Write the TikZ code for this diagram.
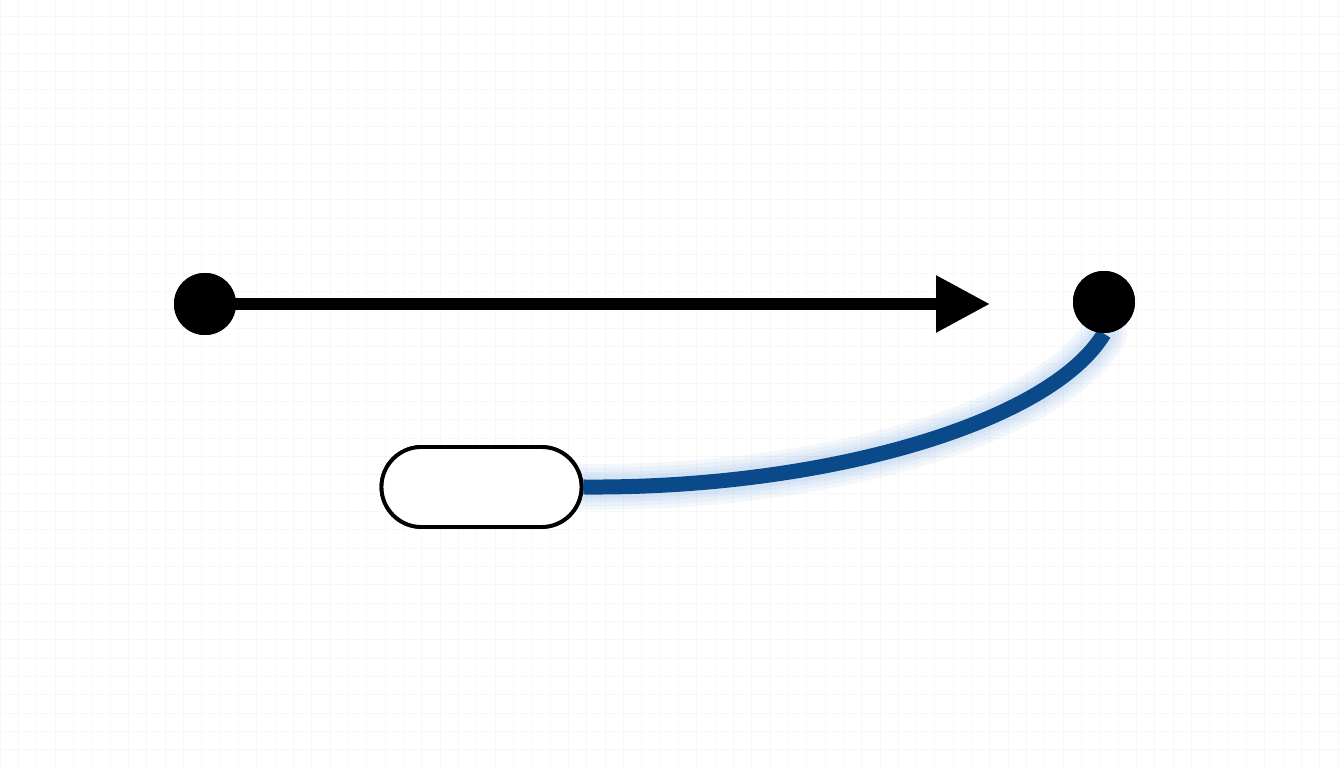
\documentclass[tikz,border=0pt]{standalone}
\usetikzlibrary{arrows.meta}
\definecolor{wireblue}{RGB}{10,74,138}
\definecolor{glowblue}{RGB}{90,150,220}

\begin{document}
\begin{tikzpicture}[>={Triangle[length=0.54cm,width=0.54cm]}]
				\tikzstyle{dot} = [circle,fill=black,inner sep=0pt,minimum size=0.62cm];
				\tikzstyle{pill} = [rounded corners=0.4cm,draw=black,fill=white,line width=1.1pt,minimum width=2.0cm,minimum height=0.8cm];
				\tikzstyle{glow} = [glowblue,opacity=0.07,line cap=round];
				\useasboundingbox[fill=white] (0,0) rectangle (13.44,7.68);
				\draw[black!3,very thin,step=0.1833] (0,0) grid (13.44,7.68);
				\node[pill] (box) at (4.815, 2.81) {};
				\node[dot] (p) at (2.05, 4.64) {};
				\node[dot] (q) at (11.04, 4.66) {};
				\coordinate (tip) at (9.90, 4.64);
				% glow round the wire
				\foreach \w in {0.46,0.38,0.30,0.23}
					\draw[glow,line width=\w cm] (box.east) .. controls (8.25,2.79) and (10.5,3.45) .. (q.south);
				\draw[wireblue,line width=0.15cm] (box.east) .. controls (8.25,2.79) and (10.5,3.45) .. (q.south);
				\node[pill] at (box) {};
				\node[dot] at (q) {};
				\draw[->,line width=0.12cm] (p.center) -- (tip);
				\node[dot] at (p) {};
			\end{tikzpicture}
\end{document}
